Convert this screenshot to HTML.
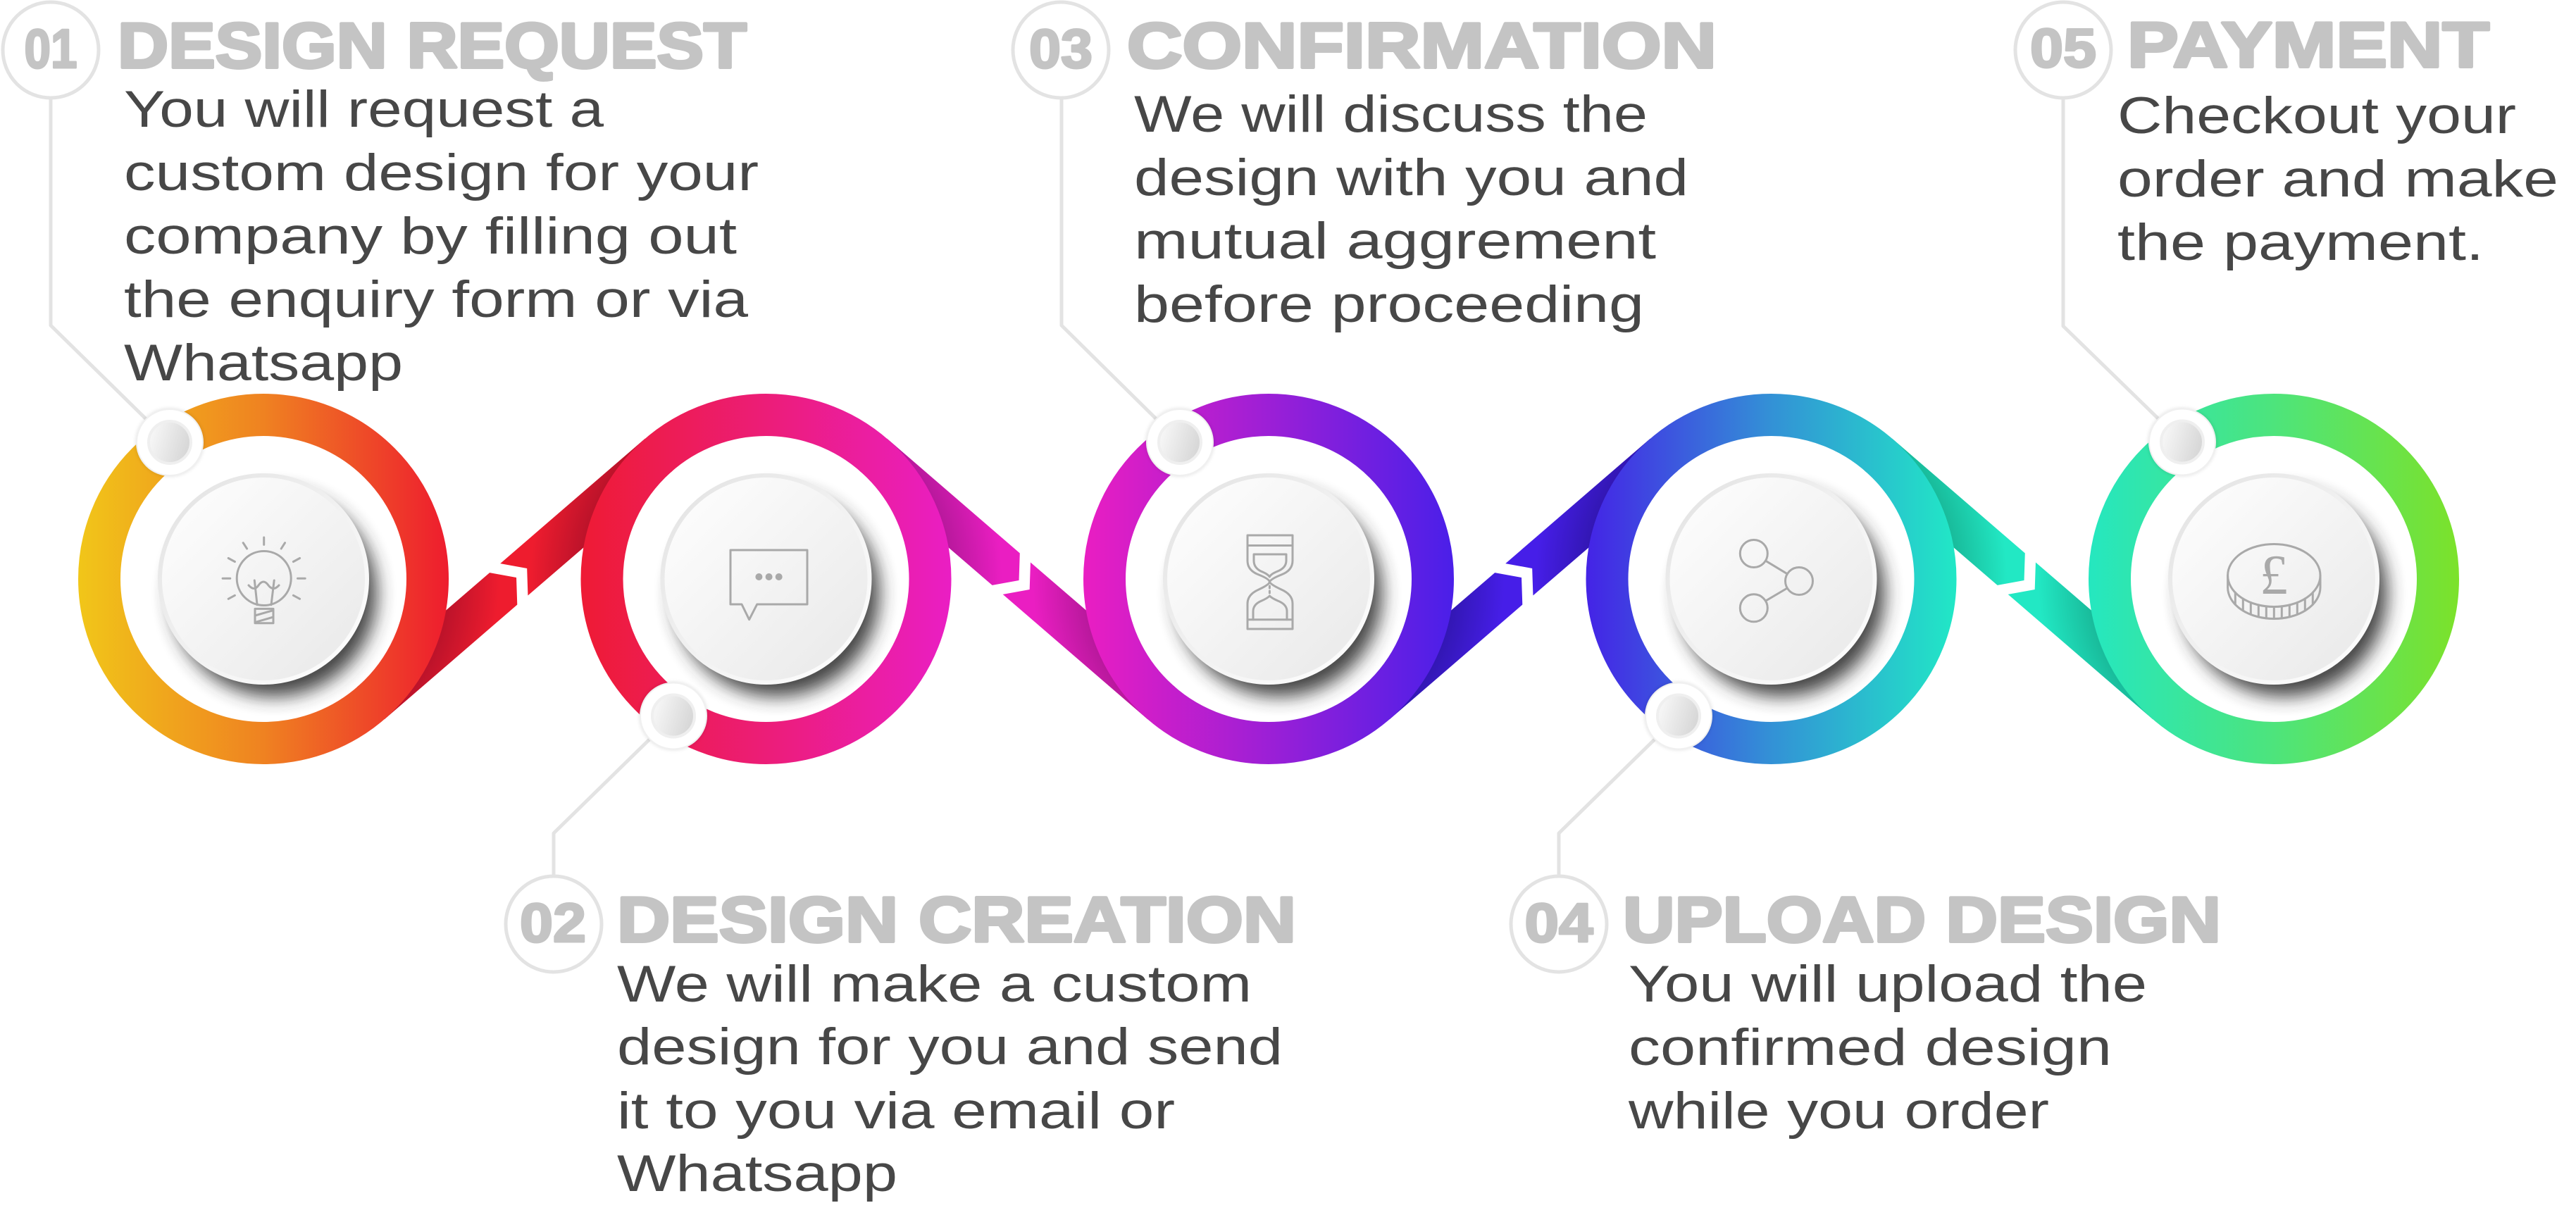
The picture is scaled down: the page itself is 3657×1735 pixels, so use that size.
<!DOCTYPE html>
<html>
<head>
<meta charset="utf-8">
<style>
  html, body { margin:0; padding:0; background:#ffffff; }
  body { width:3657px; height:1735px; overflow:hidden; }
  svg { display:block; }
  .b { font-family:"Liberation Sans", Arial, sans-serif; font-size:73px; fill:#474747; }
  .h { font-family:"Liberation Sans", Arial, sans-serif; font-size:91px; font-weight:bold; fill:#C4C4C4; stroke:#C4C4C4; stroke-width:4; stroke-linejoin:round; }
  .n { font-family:"Liberation Sans", Arial, sans-serif; font-size:78px; font-weight:bold; fill:#C4C4C4; stroke:#C4C4C4; stroke-width:3; stroke-linejoin:round; text-anchor:middle; }
  .ic { fill:none; stroke:#A9A9A9; stroke-width:3; stroke-linecap:round; stroke-linejoin:round; }
</style>
</head>
<body>
<svg width="3657" height="1735" viewBox="0 0 3657 1735" xmlns="http://www.w3.org/2000/svg">
  <defs>
    <linearGradient id="gR1" gradientUnits="userSpaceOnUse" x1="111" y1="0" x2="637" y2="0">
      <stop offset="0" stop-color="#F1C619"/>
      <stop offset="0.5" stop-color="#EF8221"/>
      <stop offset="1" stop-color="#EE1C2E"/>
    </linearGradient>
    <linearGradient id="gR2" gradientUnits="userSpaceOnUse" x1="824" y1="0" x2="1351" y2="0">
      <stop offset="0" stop-color="#EE1B34"/>
      <stop offset="0.5" stop-color="#EC1D78"/>
      <stop offset="1" stop-color="#EA1EC4"/>
    </linearGradient>
    <linearGradient id="gR3" gradientUnits="userSpaceOnUse" x1="1538" y1="0" x2="2064" y2="0">
      <stop offset="0" stop-color="#EA1EC2"/>
      <stop offset="0.5" stop-color="#9C1FD6"/>
      <stop offset="1" stop-color="#4A1FE9"/>
    </linearGradient>
    <linearGradient id="gR4" gradientUnits="userSpaceOnUse" x1="2251" y1="0" x2="2778" y2="0">
      <stop offset="0" stop-color="#4423E6"/>
      <stop offset="0.5" stop-color="#3391D6"/>
      <stop offset="1" stop-color="#21E8C6"/>
    </linearGradient>
    <linearGradient id="gR5" gradientUnits="userSpaceOnUse" x1="2964" y1="0" x2="3491" y2="0">
      <stop offset="0" stop-color="#25E7C0"/>
      <stop offset="0.5" stop-color="#4DE47C"/>
      <stop offset="1" stop-color="#7CE22A"/>
    </linearGradient>

    <radialGradient id="s1" gradientUnits="userSpaceOnUse" cx="374" cy="822" r="335">
      <stop offset="0.78" stop-color="#B8122A" stop-opacity="0.95"/>
      <stop offset="1" stop-color="#B8122A" stop-opacity="0"/>
    </radialGradient>
    <radialGradient id="s2a" gradientUnits="userSpaceOnUse" cx="1087.5" cy="822" r="335">
      <stop offset="0.78" stop-color="#B8122A" stop-opacity="0.95"/>
      <stop offset="1" stop-color="#B8122A" stop-opacity="0"/>
    </radialGradient>
    <radialGradient id="s2b" gradientUnits="userSpaceOnUse" cx="1087.5" cy="822" r="335">
      <stop offset="0.78" stop-color="#B5189A" stop-opacity="0.95"/>
      <stop offset="1" stop-color="#B5189A" stop-opacity="0"/>
    </radialGradient>
    <radialGradient id="s3a" gradientUnits="userSpaceOnUse" cx="1801" cy="822" r="335">
      <stop offset="0.78" stop-color="#B5189A" stop-opacity="0.95"/>
      <stop offset="1" stop-color="#B5189A" stop-opacity="0"/>
    </radialGradient>
    <radialGradient id="s3b" gradientUnits="userSpaceOnUse" cx="1801" cy="822" r="335">
      <stop offset="0.78" stop-color="#3116B0" stop-opacity="0.95"/>
      <stop offset="1" stop-color="#3116B0" stop-opacity="0"/>
    </radialGradient>
    <radialGradient id="s4a" gradientUnits="userSpaceOnUse" cx="2514.5" cy="822" r="335">
      <stop offset="0.78" stop-color="#3116B0" stop-opacity="0.95"/>
      <stop offset="1" stop-color="#3116B0" stop-opacity="0"/>
    </radialGradient>
    <radialGradient id="s4b" gradientUnits="userSpaceOnUse" cx="2514.5" cy="822" r="335">
      <stop offset="0.78" stop-color="#18B898" stop-opacity="0.95"/>
      <stop offset="1" stop-color="#18B898" stop-opacity="0"/>
    </radialGradient>
    <radialGradient id="s5" gradientUnits="userSpaceOnUse" cx="3228" cy="822" r="335">
      <stop offset="0.78" stop-color="#18B898" stop-opacity="0.95"/>
      <stop offset="1" stop-color="#18B898" stop-opacity="0"/>
    </radialGradient>

    <linearGradient id="gDisk" x1="0" y1="0" x2="1" y2="1">
      <stop offset="0" stop-color="#FFFFFF"/>
      <stop offset="1" stop-color="#E8E8E8"/>
    </linearGradient>
    <linearGradient id="gRim" x1="0" y1="0" x2="1" y2="1">
      <stop offset="0" stop-color="#E2E2E2"/>
      <stop offset="0.6" stop-color="#F4F4F4"/>
      <stop offset="1" stop-color="#FFFFFF"/>
    </linearGradient>
    <linearGradient id="gDot" x1="0" y1="0" x2="1" y2="0.3">
      <stop offset="0" stop-color="#FBFBFB"/>
      <stop offset="1" stop-color="#D8D8D8"/>
    </linearGradient>
    <filter id="blur" x="-40%" y="-40%" width="180%" height="180%">
      <feGaussianBlur stdDeviation="13"/>
    </filter>
    <filter id="blurS" x="-40%" y="-40%" width="180%" height="180%">
      <feGaussianBlur stdDeviation="3"/>
    </filter>
  </defs>

  <!-- ===== BANDS ===== -->
  <line x1="526.15" y1="998.5" x2="935.35" y2="645.5" stroke="#EE1C2E" stroke-width="60"/>
  <line x1="526.15" y1="998.5" x2="935.35" y2="645.5" stroke="url(#s1)" stroke-width="60"/>
  <line x1="526.15" y1="998.5" x2="935.35" y2="645.5" stroke="url(#s2a)" stroke-width="60"/>

  <line x1="1239.65" y1="645.5" x2="1648.85" y2="998.5" stroke="#EA1EC2" stroke-width="60"/>
  <line x1="1239.65" y1="645.5" x2="1648.85" y2="998.5" stroke="url(#s2b)" stroke-width="60"/>
  <line x1="1239.65" y1="645.5" x2="1648.85" y2="998.5" stroke="url(#s3a)" stroke-width="60"/>

  <line x1="1953.15" y1="998.5" x2="2362.35" y2="645.5" stroke="#461EE8" stroke-width="60"/>
  <line x1="1953.15" y1="998.5" x2="2362.35" y2="645.5" stroke="url(#s3b)" stroke-width="60"/>
  <line x1="1953.15" y1="998.5" x2="2362.35" y2="645.5" stroke="url(#s4a)" stroke-width="60"/>

  <line x1="2666.65" y1="645.5" x2="3075.85" y2="998.5" stroke="#22E8C4" stroke-width="60"/>
  <line x1="2666.65" y1="645.5" x2="3075.85" y2="998.5" stroke="url(#s4b)" stroke-width="60"/>
  <line x1="2666.65" y1="645.5" x2="3075.85" y2="998.5" stroke="url(#s5)" stroke-width="60"/>

  <g fill="#FFFFFF">
    <polygon transform="translate(730.75,822) rotate(-40.77)" points="-2,-31 23,0 -2,31 -22,31 3,0 -22,-31"/>
    <polygon transform="translate(1444.25,822) rotate(40.77)" points="-2,-31 23,0 -2,31 -22,31 3,0 -22,-31"/>
    <polygon transform="translate(2157.75,822) rotate(-40.77)" points="-2,-31 23,0 -2,31 -22,31 3,0 -22,-31"/>
    <polygon transform="translate(2871.25,822) rotate(40.77)" points="-2,-31 23,0 -2,31 -22,31 3,0 -22,-31"/>
  </g>

  <!-- ===== RINGS ===== -->
  <circle cx="374" cy="822" r="233" fill="none" stroke="url(#gR1)" stroke-width="60"/>
  <circle cx="1087.5" cy="822" r="233" fill="none" stroke="url(#gR2)" stroke-width="60"/>
  <circle cx="1801" cy="822" r="233" fill="none" stroke="url(#gR3)" stroke-width="60"/>
  <circle cx="2514.5" cy="822" r="233" fill="none" stroke="url(#gR4)" stroke-width="60"/>
  <circle cx="3228" cy="822" r="233" fill="none" stroke="url(#gR5)" stroke-width="60"/>

  <!-- ===== DISK SHADOWS ===== -->
  <g filter="url(#blur)" fill="#333333" opacity="0.9">
    <circle cx="389" cy="843" r="146"/>
    <circle cx="1102.5" cy="843" r="146"/>
    <circle cx="1816" cy="843" r="146"/>
    <circle cx="2529.5" cy="843" r="146"/>
    <circle cx="3243" cy="843" r="146"/>
  </g>
  <g fill="url(#gDisk)" stroke="url(#gRim)" stroke-width="6">
    <circle cx="374" cy="822" r="147"/>
    <circle cx="1087.5" cy="822" r="147"/>
    <circle cx="1801" cy="822" r="147"/>
    <circle cx="2514.5" cy="822" r="147"/>
    <circle cx="3228" cy="822" r="147"/>
  </g>

  <!-- ===== ICONS ===== -->
  <g class="ic">
    <circle cx="374.7" cy="821" r="38.5"/>
    <line x1="361.3" y1="824" x2="365.1" y2="858.7"/>
    <line x1="389.2" y1="824" x2="385" y2="858.7"/>
    <path d="M353,831 Q361,840 367,831 Q374,821 381,831 Q388,840 396,831"/>
    <rect x="362" y="864.4" width="26" height="20.3"/>
    <line x1="362" y1="874" x2="388" y2="866.5"/>
    <line x1="362" y1="883.6" x2="388" y2="876"/>
    <line x1="374.7" y1="763" x2="374.7" y2="773.4"/>
    <line x1="345.2" y1="770.7" x2="350.6" y2="779"/>
    <line x1="404.5" y1="770.7" x2="399.2" y2="779"/>
    <line x1="324.2" y1="792.5" x2="333.4" y2="797.5"/>
    <line x1="425.6" y1="792.5" x2="416.4" y2="797.5"/>
    <line x1="316.1" y1="821.2" x2="326.8" y2="821.2"/>
    <line x1="422.5" y1="821.2" x2="433.2" y2="821.2"/>
    <line x1="324.2" y1="850.3" x2="333.4" y2="845.3"/>
    <line x1="425.6" y1="850.3" x2="416.4" y2="845.3"/>
  </g>
  <g>
    <path class="ic" d="M1037,781 H1146 V858 H1074.7 L1063.6,879.7 L1053,858 H1037 Z"/>
    <circle cx="1077.4" cy="819" r="5" fill="#A9A9A9"/>
    <circle cx="1091.6" cy="819" r="5" fill="#A9A9A9"/>
    <circle cx="1105.7" cy="819" r="5" fill="#A9A9A9"/>
  </g>
  <g class="ic">
    <rect x="1771" y="760" width="64" height="14.5"/>
    <rect x="1771" y="879.7" width="64" height="13.3"/>
    <path d="M1771,774.5 V796 Q1771,810 1787,816 Q1802,822 1802.4,826.2 Q1802,830 1787,837 Q1771,844 1771,857 V879.7"/>
    <path d="M1835,774.5 V796 Q1835,810 1819,816 Q1804,822 1802.4,826.2 Q1804,830 1819,837 Q1835,844 1835,857 V879.7"/>
    <path d="M1780,787 H1826 V796 Q1826,806 1814,811 Q1804,815 1802.4,819 Q1800,815 1790,811 Q1780,806 1780,796 Z"/>
    <path d="M1779,879.7 V868 Q1779,858 1791,853 Q1800,849 1802.4,846 Q1805,849 1814,853 Q1827,858 1827,868 V879.7"/>
    <line x1="1802.4" y1="832" x2="1802.4" y2="835"/>
    <line x1="1802.4" y1="839" x2="1802.4" y2="842"/>
  </g>
  <g class="ic">
    <circle cx="2489.8" cy="786" r="19.5"/>
    <circle cx="2554" cy="825" r="19.5"/>
    <circle cx="2489.8" cy="863.3" r="19.5"/>
    <line x1="2506.5" y1="796.2" x2="2537.3" y2="814.8"/>
    <line x1="2506.5" y1="853.2" x2="2537.3" y2="835"/>
  </g>
  <g class="ic" stroke-width="2.6">
    <ellipse cx="3228.3" cy="817" rx="65.7" ry="44.5"/>
    <path d="M3162.6,817 V834 A65.7,44.5 0 0 0 3294,834 V817"/>
    <line x1="3173.3" y1="841.3" x2="3173.3" y2="858.3"/>
    <line x1="3184.3" y1="850" x2="3184.3" y2="867"/>
    <line x1="3195.3" y1="855.5" x2="3195.3" y2="872.5"/>
    <line x1="3206.3" y1="858.9" x2="3206.3" y2="875.9"/>
    <line x1="3217.3" y1="860.9" x2="3217.3" y2="877.9"/>
    <line x1="3228.3" y1="861.5" x2="3228.3" y2="878.5"/>
    <line x1="3239.3" y1="860.9" x2="3239.3" y2="877.9"/>
    <line x1="3250.3" y1="858.9" x2="3250.3" y2="875.9"/>
    <line x1="3261.3" y1="855.5" x2="3261.3" y2="872.5"/>
    <line x1="3272.3" y1="850" x2="3272.3" y2="867"/>
    <line x1="3283.3" y1="841.3" x2="3283.3" y2="858.3"/>
  </g>
  <text x="3228" y="843" text-anchor="middle" font-family="'Liberation Serif', serif" font-size="80" fill="#A9A9A9">£</text>

  <!-- ===== LEADER LINES ===== -->
  <g fill="none" stroke="#E3E3E3" stroke-width="5" stroke-linejoin="round">
    <path d="M72,140 V462 L241,628"/>
    <path d="M1507,140 V462 L1675,628"/>
    <path d="M2929,140 V463 L3098,627.5"/>
    <path d="M956,1016.5 L786,1183 V1242"/>
    <path d="M2383,1016.5 L2213,1183 V1242"/>
  </g>

  <!-- ===== DOTS ===== -->
  <g>
    <g transform="translate(241,628)">
      <circle r="48" fill="#000" opacity="0.12" filter="url(#blurS)"/>
      <circle r="47" fill="#FFFFFF" stroke="#F0F0F0" stroke-width="2"/>
      <circle r="30" fill="url(#gDot)" stroke="#EFEFEF" stroke-width="4"/>
    </g>
    <g transform="translate(956,1016.5)">
      <circle r="48" fill="#000" opacity="0.12" filter="url(#blurS)"/>
      <circle r="47" fill="#FFFFFF" stroke="#F0F0F0" stroke-width="2"/>
      <circle r="30" fill="url(#gDot)" stroke="#EFEFEF" stroke-width="4"/>
    </g>
    <g transform="translate(1675,628)">
      <circle r="48" fill="#000" opacity="0.12" filter="url(#blurS)"/>
      <circle r="47" fill="#FFFFFF" stroke="#F0F0F0" stroke-width="2"/>
      <circle r="30" fill="url(#gDot)" stroke="#EFEFEF" stroke-width="4"/>
    </g>
    <g transform="translate(2383,1016.5)">
      <circle r="48" fill="#000" opacity="0.12" filter="url(#blurS)"/>
      <circle r="47" fill="#FFFFFF" stroke="#F0F0F0" stroke-width="2"/>
      <circle r="30" fill="url(#gDot)" stroke="#EFEFEF" stroke-width="4"/>
    </g>
    <g transform="translate(3098,627.5)">
      <circle r="48" fill="#000" opacity="0.12" filter="url(#blurS)"/>
      <circle r="47" fill="#FFFFFF" stroke="#F0F0F0" stroke-width="2"/>
      <circle r="30" fill="url(#gDot)" stroke="#EFEFEF" stroke-width="4"/>
    </g>
  </g>

  <!-- ===== NUMBER CIRCLES ===== -->
  <g fill="#FFFFFF" stroke="#E3E3E3" stroke-width="5">
    <circle cx="72" cy="71" r="68"/>
    <circle cx="1506" cy="71" r="68"/>
    <circle cx="2929" cy="71" r="68"/>
    <circle cx="786" cy="1312" r="68"/>
    <circle cx="2213" cy="1312" r="68"/>
  </g>

  <text class="n" x="72" y="96" textLength="75" lengthAdjust="spacingAndGlyphs">01</text>
  <text class="n" x="1506" y="96" textLength="90" lengthAdjust="spacingAndGlyphs">03</text>
  <text class="n" x="2929" y="95" textLength="94" lengthAdjust="spacingAndGlyphs">05</text>
  <text class="n" x="785" y="1337" textLength="94" lengthAdjust="spacingAndGlyphs">02</text>
  <text class="n" x="2213" y="1337" textLength="97" lengthAdjust="spacingAndGlyphs">04</text>

  <text class="h" x="167" y="96" textLength="893" lengthAdjust="spacingAndGlyphs">DESIGN REQUEST</text>
  <text class="h" x="1600" y="96" textLength="837" lengthAdjust="spacingAndGlyphs">CONFIRMATION</text>
  <text class="h" x="3020" y="95" textLength="514" lengthAdjust="spacingAndGlyphs">PAYMENT</text>
  <text class="h" x="876" y="1337" textLength="964" lengthAdjust="spacingAndGlyphs">DESIGN CREATION</text>
  <text class="h" x="2304" y="1337" textLength="849" lengthAdjust="spacingAndGlyphs">UPLOAD DESIGN</text>

  <text class="b" x="176" y="180" textLength="681" lengthAdjust="spacingAndGlyphs">You will request a</text>
  <text class="b" x="176" y="270" textLength="901" lengthAdjust="spacingAndGlyphs">custom design for your</text>
  <text class="b" x="176" y="360" textLength="870" lengthAdjust="spacingAndGlyphs">company by filling out</text>
  <text class="b" x="176" y="450" textLength="886" lengthAdjust="spacingAndGlyphs">the enquiry form or via</text>
  <text class="b" x="176" y="540" textLength="396" lengthAdjust="spacingAndGlyphs">Whatsapp</text>

  <text class="b" x="1610" y="187" textLength="729" lengthAdjust="spacingAndGlyphs">We will discuss the</text>
  <text class="b" x="1610" y="277" textLength="787" lengthAdjust="spacingAndGlyphs">design with you and</text>
  <text class="b" x="1610" y="367" textLength="741" lengthAdjust="spacingAndGlyphs">mutual aggrement</text>
  <text class="b" x="1610" y="457" textLength="724" lengthAdjust="spacingAndGlyphs">before proceeding</text>

  <text class="b" x="3006" y="189" textLength="566" lengthAdjust="spacingAndGlyphs">Checkout your</text>
  <text class="b" x="3006" y="279" textLength="626" lengthAdjust="spacingAndGlyphs">order and make</text>
  <text class="b" x="3006" y="369" textLength="520" lengthAdjust="spacingAndGlyphs">the payment.</text>

  <text class="b" x="876" y="1422" textLength="901" lengthAdjust="spacingAndGlyphs">We will make a custom</text>
  <text class="b" x="876" y="1511" textLength="945" lengthAdjust="spacingAndGlyphs">design for you and send</text>
  <text class="b" x="876" y="1602" textLength="792" lengthAdjust="spacingAndGlyphs">it to you via email or</text>
  <text class="b" x="876" y="1691" textLength="398" lengthAdjust="spacingAndGlyphs">Whatsapp</text>

  <text class="b" x="2312" y="1422" textLength="736" lengthAdjust="spacingAndGlyphs">You will upload the</text>
  <text class="b" x="2312" y="1512" textLength="686" lengthAdjust="spacingAndGlyphs">confirmed design</text>
  <text class="b" x="2312" y="1602" textLength="597" lengthAdjust="spacingAndGlyphs">while you order</text>
</svg>
</body>
</html>
